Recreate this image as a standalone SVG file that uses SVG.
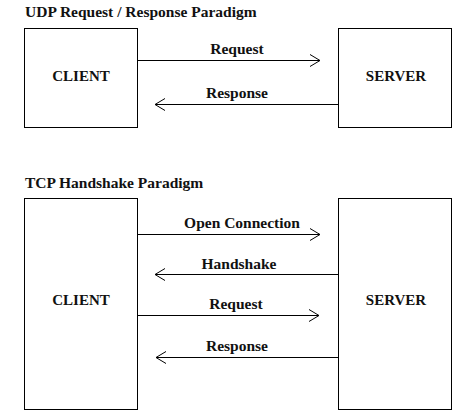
<svg xmlns="http://www.w3.org/2000/svg" width="475" height="418" viewBox="0 0 475 418">
<style>
text{font-family:'Liberation Serif',serif;font-weight:bold;fill:#111}
.t{font-size:15.5px}
.n{font-size:15px;text-anchor:middle}
.l{font-size:15.5px;text-anchor:middle}
.box{fill:#fff;stroke:#000;stroke-width:1}
.c{stroke:#000;stroke-width:1;fill:none}
</style>
<defs>
<marker id="ah" markerUnits="userSpaceOnUse" markerWidth="14" markerHeight="14" refX="11" refY="7" orient="auto">
<path d="M1,1 L11,7 L1,13" fill="none" stroke="#000" stroke-width="1"/>
</marker>
</defs>
<rect width="475" height="418" fill="#fff"/>
<text class="t" x="25" y="17">UDP Request / Response Paradigm</text>
<text class="t" x="25" y="188">TCP Handshake Paradigm</text>
<g id="udp-client"><rect class="box" x="24.5" y="28.5" width="113" height="99"/><text class="n" x="81" y="81">CLIENT</text></g>
<g id="udp-server"><rect class="box" x="338.5" y="28.5" width="113" height="99"/><text class="n" x="396" y="81">SERVER</text></g>
<g id="tcp-client"><rect class="box" x="24.5" y="198.5" width="113" height="211"/><text class="n" x="81" y="305">CLIENT</text></g>
<g id="tcp-server"><rect class="box" x="338.5" y="198.5" width="113" height="211"/><text class="n" x="396" y="305">SERVER</text></g>
<g id="connectors">
<line class="c" x1="137.5" y1="60.5" x2="320" y2="60.5" marker-end="url(#ah)"/>
<line class="c" x1="338.5" y1="104.5" x2="155" y2="104.5" marker-end="url(#ah)"/>
<line class="c" x1="137.5" y1="234.5" x2="320" y2="234.5" marker-end="url(#ah)"/>
<line class="c" x1="338.5" y1="274.5" x2="155" y2="274.5" marker-end="url(#ah)"/>
<line class="c" x1="137.5" y1="315.5" x2="319" y2="315.5" marker-end="url(#ah)"/>
<line class="c" x1="338.5" y1="357.5" x2="156" y2="357.5" marker-end="url(#ah)"/>
<text class="l" x="237" y="54">Request</text>
<text class="l" x="237" y="98">Response</text>
<text class="l" x="242" y="228">Open Connection</text>
<text class="l" x="239" y="269">Handshake</text>
<text class="l" x="236" y="309">Request</text>
<text class="l" x="237" y="351">Response</text>
</g>
</svg>
